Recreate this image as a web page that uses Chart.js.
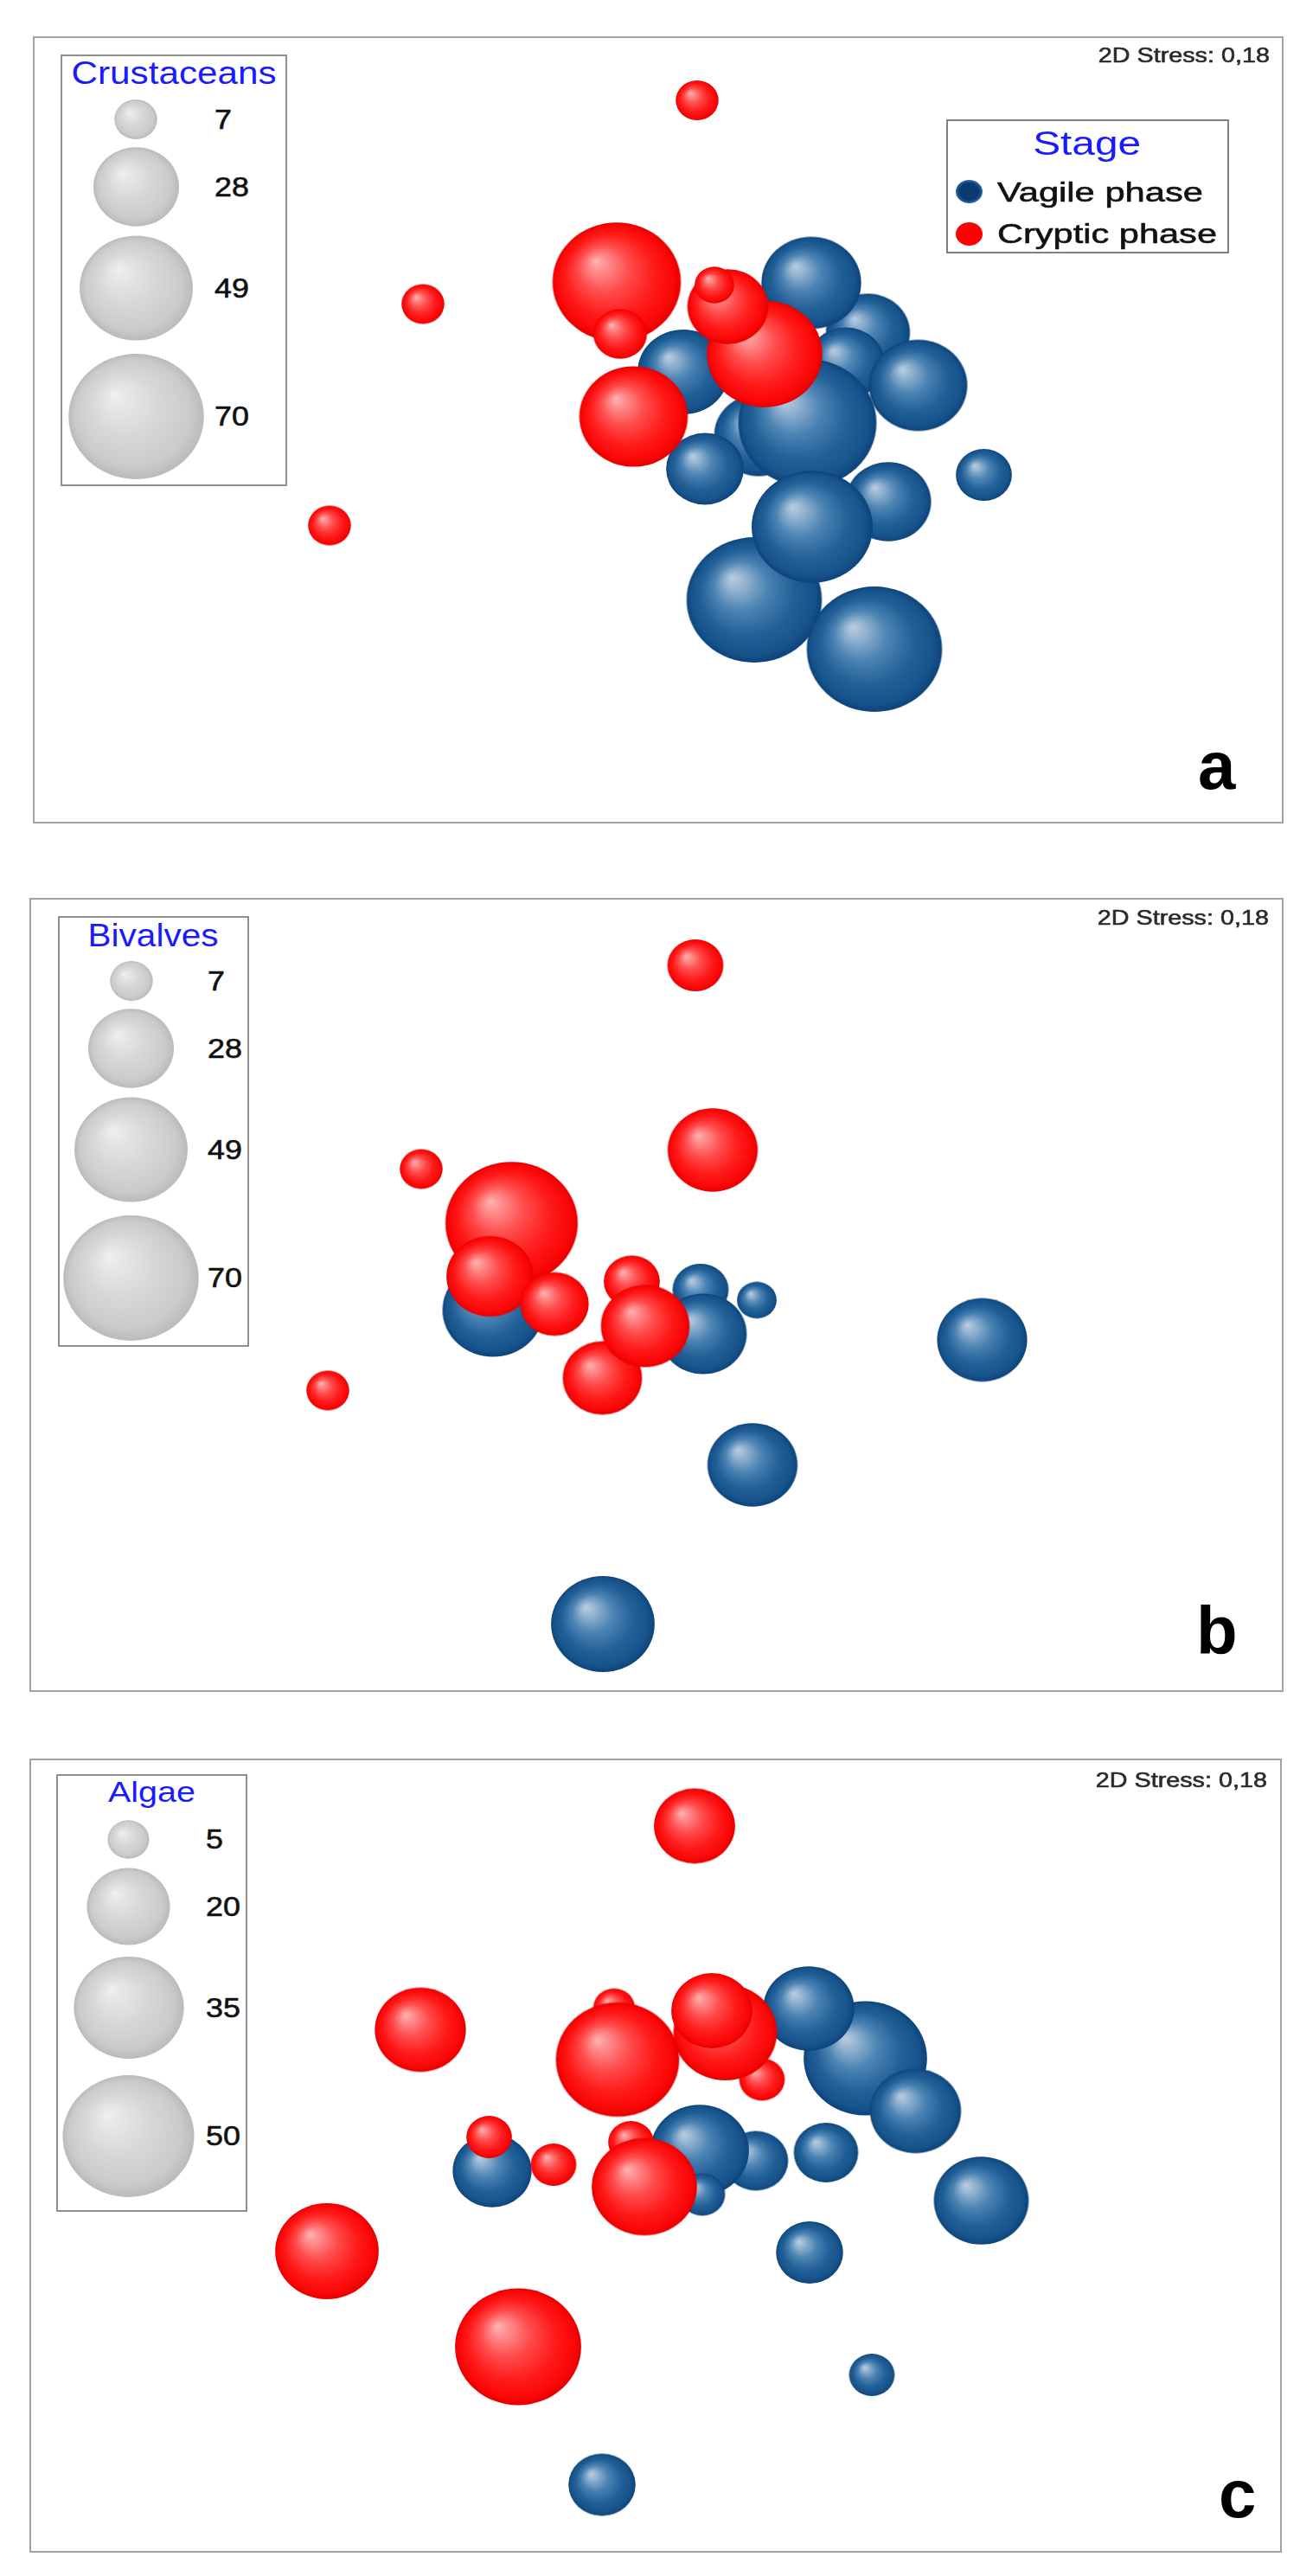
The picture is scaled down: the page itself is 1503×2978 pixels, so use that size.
<!DOCTYPE html>
<html>
<head>
<meta charset="utf-8">
<title>nMDS bubble plots – crustaceans, bivalves, algae</title>
<script src="https://cdn.jsdelivr.net/npm/chart.js@4.4.1/dist/chart.umd.min.js"></script>
<style>
  html, body { margin: 0; padding: 0; background: #fff; }
  body { width: 1503px; height: 2978px; position: relative; overflow: hidden;
         font-family: "Liberation Sans", Arial, sans-serif; }
  .panel { position: absolute; }
  .panel canvas.plot { position: absolute; left: 0; top: 0; }
  .frame { position: absolute; left: 0; top: 0; right: 0; bottom: 0;
           box-shadow: inset 0 0 0 2px #a2a2a2; pointer-events: none; }
  .box { position: absolute; background: #fff; box-shadow: inset 0 0 0 2px #8e8e8e; }
  .txt { position: absolute; white-space: nowrap; line-height: 1; }
  .txt.heavy { -webkit-text-stroke: 0.6px currentColor; }
  .dot { position: absolute; border-radius: 50%; }
  .box canvas { position: absolute; }
</style>
</head>
<body>
<script>
'use strict';

/* ══════════════ DATA ══════════════ */
// nMDS coordinates of the sites (one ordination, reused by the three panels)
const vagileX  = [0.394, 0.232, 0.485, 0.434, 0.354, 0.058, 0.532, 0.345, 0.601, 0.102, 0.108, 0.222, 0.500, 0.356, 0.753, -0.378, -0.124];
const vagileY  = [0.007, -0.012, 0.225, 0.154, 0.340, 0.134, -0.166, 0.016, 0.103, 0.012, -0.090, -0.393, -0.507, -0.224, -0.104, -0.035, -0.761];
const crypticX = [-0.335, -0.385, -0.236, -0.125, -0.057, -0.026, -0.318, -0.096, -0.088, 0.246, 0.161, 0.130, 0.090, -0.544, -0.760];
const crypticY = [0.166, 0.043, -0.021, -0.192, 0.031, -0.072, -0.442, 0.342, 0.222, 0.176, 0.285, 0.335, 0.762, 0.291, -0.221];

// abundances per site (0 = absent, no bubble)
const vagileCrustaceans  = [0, 30, 27, 23, 38, 32, 28, 73, 37, 0, 23, 70, 70, 56, 12, 0, 0];
const crypticCrustaceans = [0, 0, 0, 0, 45, 0, 0, 63, 11, 51, 25, 6, 7, 7, 7];
const vagileBivalves     = [0, 6, 0, 0, 0, 0, 0, 0, 0, 12, 29, 31, 0, 0, 31, 39, 41];
const crypticBivalves    = [67, 29, 18, 24, 12, 30, 0, 0, 0, 0, 0, 31, 12, 7, 7];
const vagileAlgae        = [12, 12, 44, 0, 24, 0, 0, 0, 24, 28, 6, 0, 6, 13, 26, 18, 13];
const crypticAlgae       = [0, 6, 6, 0, 6, 32, 46, 5, 44, 6, 31, 19, 19, 24, 31];

// size keys
const crustaceanKey = [7, 28, 49, 70];
const bivalveKey    = [7, 28, 49, 70];
const algaeKey      = [5, 20, 35, 50];

const stageTitle  = 'Stage';
const stageLabels = ['Vagile phase', 'Cryptic phase'];
const stressText  = '2D Stress: 0,18';

/* ══════════════ STYLE ══════════════ */
const U = 500;          // px per ordination unit
const ASPECT = 1.08;    // source figure is slightly stretched horizontally
const BLUE = [[0, '#b9cee2'], [0.12, '#9cb9d4'], [0.4, '#4b83b3'], [0.7, '#215f97'], [0.9, '#17548b'], [1, '#0d437b']];
const RED  = [[0, '#ffb5b5'], [0.12, '#ff9292'], [0.4, '#ff4b4b'], [0.7, '#ff1a1a'], [0.92, '#fa0606'], [1, '#e60000']];
const GRAY = [[0, '#f0f0f0'], [0.15, '#e7e7e7'], [0.5, '#d7d7d7'], [0.85, '#cbcbcb'], [1, '#bababa']];

const PANELS = [
  { letter: 'a', title: 'Crustaceans', vag: vagileCrustaceans, cry: crypticCrustaceans, key: crustaceanKey, k: 9.35,
    frame: [38, 42, 1446, 910], keyBox: [32, 21, 262, 499], keyCx: 87, keyLabelX: 178,
    titleFont: 36, titleW: 237, titleBase: 34, stressRight: 16, stressBase: 31, letterPos: [1347, 870], stage: true },
  { letter: 'b', title: 'Bivalves', vag: vagileBivalves, cry: crypticBivalves, key: bivalveKey, k: 9.35,
    frame: [34, 1038, 1450, 918], keyBox: [33, 21, 221, 498], keyCx: 84.5, keyLabelX: 173,
    titleFont: 36, titleW: 151, titleBase: 35, stressRight: 17.5, stressBase: 32, letterPos: [1349, 874] },
  { letter: 'c', title: 'Algae', vag: vagileAlgae, cry: crypticAlgae, key: algaeKey, k: 10.75,
    frame: [34, 2033, 1448, 918], keyBox: [31, 18, 221, 506], keyCx: 83.7, keyLabelX: 172.7,
    titleFont: 34, titleW: 101, titleBase: 32, stressRight: 17.4, stressBase: 34, letterPos: [1375, 877] }
];
const KEY_SLOTS = [75, 153, 270, 418];   // centre of each key sphere, from key box top

/* ══════════════ HELPERS ══════════════ */
function sphere(stops, rx) {
  const ry = rx / ASPECT;
  const c = document.createElement('canvas');
  c.width = Math.ceil(rx * 2) + 2;
  c.height = Math.ceil(ry * 2) + 2;
  const g = c.getContext('2d');
  g.translate(c.width / 2, c.height / 2);
  g.scale(1, 1 / ASPECT);
  const grad = g.createRadialGradient(-0.33 * rx, -0.36 * rx, 0, 0, 0, rx);
  stops.forEach(([o, col]) => grad.addColorStop(o, col));
  g.fillStyle = grad;
  g.beginPath();
  g.arc(0, 0, rx, 0, Math.PI * 2);
  g.fill();
  return c;
}

const spriteCache = {};
function sprite(name, stops, r) {
  const key = name + r.toFixed(2);
  if (!spriteCache[key]) spriteCache[key] = sphere(stops, r);
  return spriteCache[key];
}

function points(xs, ys, vals, k) {
  const out = [];
  vals.forEach((v, i) => { if (v > 0) out.push({ x: xs[i], y: ys[i], r: k * Math.sqrt(v), v }); });
  return out;
}

// text placed by its baseline, optionally stretched to a target width
function addText(parent, str, o) {
  const el = document.createElement('div');
  el.className = 'txt' + (o.heavy ? ' heavy' : '');
  el.textContent = str;
  el.style.fontSize = o.size + 'px';
  el.style.fontWeight = o.bold ? 'bold' : 'normal';
  el.style.color = o.color || '#111';
  el.style.top = (o.base - 0.8465 * o.size) + 'px';
  el.style.left = '0px';
  parent.appendChild(el);
  const w = el.getBoundingClientRect().width;
  const sx = o.width ? o.width / w : (o.sx || 1);
  if (o.align === 'center') { el.style.left = (o.x - w / 2) + 'px'; el.style.transformOrigin = '50% 50%'; }
  else if (o.align === 'right') { el.style.left = (o.x - w) + 'px'; el.style.transformOrigin = '100% 50%'; }
  else { el.style.left = o.x + 'px'; el.style.transformOrigin = '0 50%'; }
  el.style.transform = `scaleX(${sx})`;
  return el;
}

/* ══════════════ BUILD ══════════════ */
function buildPanel(p) {
  const [fx, fy, fw, fh] = p.frame;
  const panel = document.createElement('div');
  panel.className = 'panel';
  Object.assign(panel.style, { left: fx + 'px', top: fy + 'px', width: fw + 'px', height: fh + 'px' });
  document.body.appendChild(panel);

  const canvas = document.createElement('canvas');
  canvas.className = 'plot';
  canvas.width = fw; canvas.height = fh;
  panel.appendChild(canvas);

  new Chart(canvas, {
    type: 'bubble',
    data: {
      datasets: [
        { label: stageLabels[1], order: 1, data: points(crypticX, crypticY, p.cry, p.k),
          pointStyle: c => c.raw ? sprite('cry', RED, c.raw.r) : 'circle', backgroundColor: '#ff0000' },
        { label: stageLabels[0], order: 2, data: points(vagileX, vagileY, p.vag, p.k),
          pointStyle: c => c.raw ? sprite('vag', BLUE, c.raw.r) : 'circle', backgroundColor: '#0d437b' }
      ]
    },
    options: {
      responsive: false, animation: false, events: [], devicePixelRatio: 1,
      // no auto padding: the ordination must fill the whole frame
      layout: { padding: 0, autoPadding: false },
      clip: false,
      plugins: { legend: { display: false }, tooltip: { enabled: false }, title: { display: false } },
      scales: {
        x: { type: 'linear', display: false, min: -fw / 2 / U, max: fw / 2 / U },
        y: { type: 'linear', display: false, min: -fh / 2 / U, max: fh / 2 / U }
      }
    }
  });

  const frame = document.createElement('div');
  frame.className = 'frame';
  panel.appendChild(frame);

  // size key
  const [kx, ky, kw, kh] = p.keyBox;
  const key = document.createElement('div');
  key.className = 'box';
  Object.assign(key.style, { left: kx + 'px', top: ky + 'px', width: kw + 'px', height: kh + 'px' });
  panel.appendChild(key);
  addText(key, p.title, { x: kw / 2, base: p.titleBase, size: p.titleFont, width: p.titleW, align: 'center', color: '#1a1aff' });
  p.key.forEach((v, i) => {
    const s = sphere(GRAY, p.k * Math.sqrt(v));
    s.style.left = (p.keyCx - s.width / 2) + 'px';
    s.style.top = (KEY_SLOTS[i] - s.height / 2) + 'px';
    key.appendChild(s);
    addText(key, String(v), { x: p.keyLabelX, base: KEY_SLOTS[i] + 11, size: 32, sx: 1.12, heavy: true });
  });

  // stress value and panel letter
  addText(panel, stressText, { x: fw - p.stressRight, base: p.stressBase, size: 24.5, width: 198, align: 'right', color: '#2a2a2a', heavy: true });
  addText(panel, p.letter, { x: p.letterPos[0], base: p.letterPos[1], size: 78, bold: true, color: '#000' });

  if (p.stage) buildStageLegend(panel);
}

function buildStageLegend(panel) {
  const box = document.createElement('div');
  box.className = 'box';
  box.style.boxShadow = 'inset 0 0 0 2px #808080';
  Object.assign(box.style, { left: '1056px', top: '96px', width: '327px', height: '155px' });
  panel.appendChild(box);
  addText(box, stageTitle, { x: 162.7, base: 41.5, size: 38, width: 125, align: 'center', color: '#1a1aff' });
  const rows = [
    { label: stageLabels[0], base: 95.3, cy: 83.7, w: 238, bg: 'radial-gradient(closest-side, #0b3a73 72%, #2f6aa6 100%)' },
    { label: stageLabels[1], base: 143, cy: 132.8, w: 254, bg: '#ff0000' }
  ];
  rows.forEach(r => {
    const d = document.createElement('div');
    d.className = 'dot';
    Object.assign(d.style, { left: (26.5 - 15.5) + 'px', top: (r.cy - 13.5) + 'px', width: '31px', height: '27px', background: r.bg });
    box.appendChild(d);
    addText(box, r.label, { x: 59, base: r.base, size: 32, width: r.w, heavy: true });
  });
}

PANELS.forEach(buildPanel);
</script>
</body>
</html>
